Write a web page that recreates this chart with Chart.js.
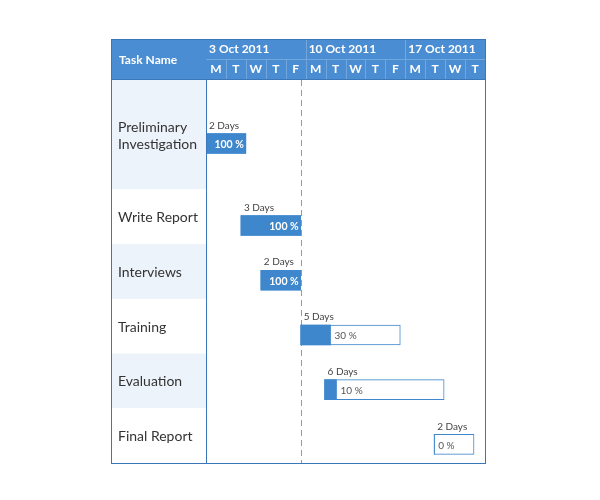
<!DOCTYPE html>
<html>
<head>
<meta charset="utf-8">
<script src="https://cdn.jsdelivr.net/npm/chart.js@4/dist/chart.umd.min.js"></script>
<style>
  html, body { margin: 0; padding: 0; background: #fff; }
  #wrap { width: 600px; height: 500px; }
</style>
</head>
<body>
<div id="wrap"><canvas id="gantt"></canvas></div>
<script>
// task data
var tasks = [["Preliminary", "Investigation"], ["Write Report"], ["Interviews"], ["Training"], ["Evaluation"], ["Final Report"]];
var rowSpans = [2, 1, 1, 1, 1, 1];
var startDays = [0, 1.75, 2.75, 4.75, 5.95, 11.45];
var durations = [2, 3, 2, 5, 6, 2];
var progress = [100, 100, 100, 30, 10, 0];

// header labels
var weekLabels = ["3 Oct 2011", "10 Oct 2011", "17 Oct 2011"];
var dayLabels = ["M", "T", "W", "T", "F", "M", "T", "W", "T", "F", "M", "T", "W", "T"];
var todayMark = 4.75;

var BLUE = "#3f87cc";
var HEAD = "#4a8dd2";
var BORDER = "#3a77b8";
var FONT = "Lato, 'Open Sans', sans-serif";

var rowStarts = [];
var acc = 0;
for (var r = 0; r < rowSpans.length; r++) { rowStarts.push(acc); acc += rowSpans[r]; }
var totalRows = acc;

function barY(i) { return rowStarts[i] + rowSpans[i] / 2 + 0.16; }

var doneData = tasks.map(function (t, i) {
    return { x: [startDays[i], startDays[i] + durations[i] * progress[i] / 100], y: barY(i) };
});
var fullData = tasks.map(function (t, i) {
    return { x: [startDays[i], startDays[i] + durations[i]], y: barY(i) };
});

var ganttPlugin = {
    id: "gantt",
    beforeDatasetsDraw: function (chart) {
        var ctx = chart.ctx, xs = chart.scales.x, ys = chart.scales.y, ca = chart.chartArea;
        var left = 111, top = 39, colRight = ca.left;
        ctx.save();
        // task column stripes
        for (var i = 0; i < tasks.length; i++) {
            var y0 = ys.getPixelForValue(rowStarts[i]);
            var y1 = ys.getPixelForValue(rowStarts[i] + rowSpans[i]);
            ctx.fillStyle = (i % 2 == 0) ? "#edf3fa" : "#ffffff";
            ctx.fillRect(left, y0, colRight - left, y1 - y0);
            ctx.fillStyle = "#333";
            ctx.font = "14px " + FONT;
            ctx.textBaseline = "middle";
            ctx.textAlign = "left";
            var mid = (y0 + y1) / 2 + 1;
            var lines = tasks[i];
            for (var k = 0; k < lines.length; k++) {
                ctx.fillText(lines[k], 118, mid + (k - (lines.length - 1) / 2) * 17);
            }
        }
        // header
        ctx.fillStyle = HEAD;
        ctx.fillRect(left, top, ca.right - left, ca.top - top);
        ctx.strokeStyle = "#72a6dc";
        ctx.lineWidth = 1;
        ctx.beginPath();
        ctx.moveTo(colRight, top + 20.5);
        ctx.lineTo(ca.right, top + 20.5);
        for (var d = 1; d < dayLabels.length; d++) {
            var px = Math.round(xs.getPixelForValue(d)) + 0.5;
            ctx.moveTo(px, d % 5 == 0 ? top : top + 20);
            ctx.lineTo(px, ca.top);
        }
        ctx.stroke();
        ctx.fillStyle = "#fff";
        ctx.font = "bold 12px " + FONT;
        ctx.textBaseline = "middle";
        ctx.textAlign = "left";
        ctx.fillText("Task Name", 119, (top + ca.top) / 2 + 1);
        for (var w = 0; w < weekLabels.length; w++) {
            ctx.fillText(weekLabels[w], xs.getPixelForValue(w * 5) + 3, top + 10.5);
        }
        ctx.textAlign = "center";
        for (var d2 = 0; d2 < dayLabels.length; d2++) {
            ctx.fillText(dayLabels[d2], xs.getPixelForValue(d2 + 0.5), top + 30.5);
        }
        // today line
        var tx = Math.round(xs.getPixelForValue(todayMark)) + 0.5;
        ctx.strokeStyle = "#9a9a9a";
        ctx.setLineDash([6, 4]);
        ctx.beginPath();
        ctx.moveTo(tx, ca.top);
        ctx.lineTo(tx, ca.bottom);
        ctx.stroke();
        ctx.restore();
    },
    afterDraw: function (chart) {
        var ctx = chart.ctx, xs = chart.scales.x, ys = chart.scales.y, ca = chart.chartArea;
        ctx.save();
        for (var i = 0; i < tasks.length; i++) {
            var x0 = xs.getPixelForValue(startDays[i]);
            var x1 = xs.getPixelForValue(startDays[i] + durations[i]);
            var xd = xs.getPixelForValue(startDays[i] + durations[i] * progress[i] / 100);
            var yc = ys.getPixelForValue(barY(i));
            ctx.textBaseline = "middle";
            ctx.fillStyle = "#444";
            ctx.font = "10px " + FONT;
            ctx.textAlign = "left";
            ctx.fillText(durations[i] + " Days", x0 + 3, yc - 18);
            if (progress[i] == 100) {
                ctx.fillStyle = "#fff";
                ctx.font = "bold 10.5px " + FONT;
                ctx.textAlign = "right";
                ctx.fillText(progress[i] + " %", x1 - 2, yc + 1);
            } else {
                ctx.fillStyle = "#555";
                ctx.font = "10px " + FONT;
                ctx.textAlign = "left";
                ctx.fillText(progress[i] + " %", xd + 4, yc + 1);
            }
        }
        // frame
        ctx.strokeStyle = BORDER;
        ctx.lineWidth = 1;
        ctx.strokeRect(111.5, 39.5, ca.right - 111, ca.bottom - 39);
        ctx.beginPath();
        ctx.moveTo(ca.left + 0.5, ca.top);
        ctx.lineTo(ca.left + 0.5, ca.bottom);
        ctx.moveTo(111, ca.top - 0.5);
        ctx.lineTo(ca.right, ca.top - 0.5);
        ctx.stroke();
        ctx.restore();
    }
};

new Chart(document.getElementById("gantt"), {
    type: "bar",
    data: {
        datasets: [
            {
                label: "Done",
                data: doneData,
                backgroundColor: BLUE,
                borderWidth: 0,
                borderSkipped: false,
                barThickness: 20
            },
            {
                label: "Duration",
                data: fullData,
                backgroundColor: "#ffffff",
                borderColor: BLUE,
                borderWidth: 1,
                borderSkipped: false,
                barThickness: 20
            }
        ]
    },
    options: {
        indexAxis: "y",
        responsive: true,
        maintainAspectRatio: false,
        animation: false,
        grouped: false,
        layout: { padding: { left: 206, right: 115, top: 80, bottom: 37 } },
        plugins: { legend: { display: false }, tooltip: { enabled: false } },
        scales: {
            x: { type: "linear", min: 0, max: dayLabels.length, display: false, offset: false },
            y: { type: "linear", min: 0, max: totalRows, reverse: true, display: false, offset: false }
        }
    },
    plugins: [ganttPlugin]
});
</script>
</body>
</html>
